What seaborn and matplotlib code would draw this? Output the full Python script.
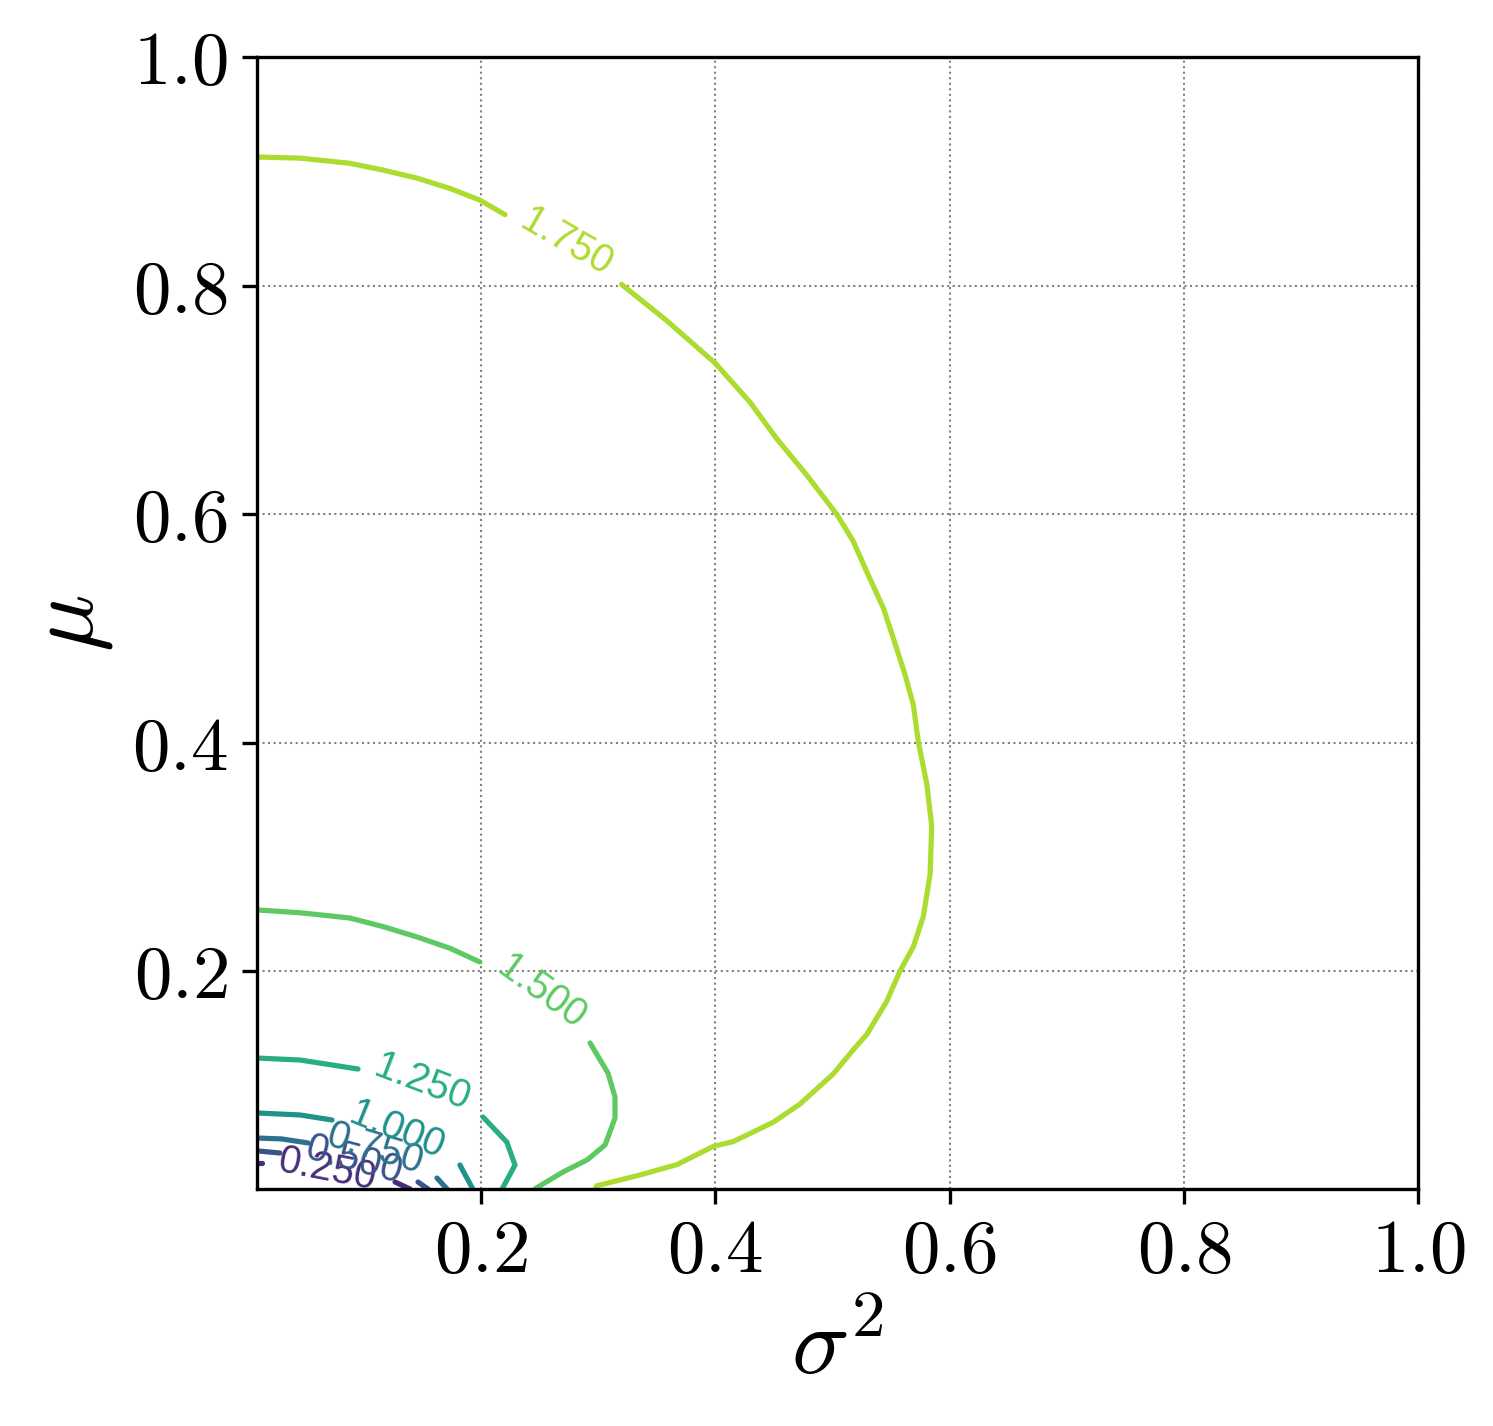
import numpy as np
import pandas as pd
import matplotlib
matplotlib.use("Agg")
import matplotlib.pyplot as plt
from matplotlib.ticker import FuncFormatter
import seaborn as sns

# ============================================
# CONTOUR LINES (sigma^2, mu)
# each level: segment before the label, segment after the label
# ============================================

LEVELS = [0.25, 0.50, 0.75, 1.00, 1.25, 1.50, 1.75]
LEVEL_TEXT = ["0.250", "0.500", "0.750", "1.000", "1.250", "1.500", "1.750"]

curve_025 = [
    [(0.0096, 0.0320), (0.0130, 0.0320)],
    [(0.1266, 0.0153), (0.1394, 0.0092)],
]
curve_050 = [
    [(0.0096, 0.0425), (0.0284, 0.0407)],
    [(0.1462, 0.0153), (0.1548, 0.0092)],
]
curve_075 = [
    [(0.0096, 0.0538), (0.0300, 0.0530), (0.0523, 0.0495)],
    [(0.1624, 0.0188), (0.1710, 0.0092)],
]
curve_100 = [
    [(0.0096, 0.0757), (0.0455, 0.0740), (0.0728, 0.0696)],
    [(0.1820, 0.0302), (0.1930, 0.0092)],
]
curve_125 = [
    [(0.0096, 0.1238), (0.0455, 0.1221), (0.0950, 0.1142)],
    [(0.2017, 0.0722), (0.2220, 0.0503), (0.2290, 0.0302), (0.2180, 0.0092)],
]
curve_150 = [
    [(0.0096, 0.2534), (0.0455, 0.2510), (0.0880, 0.2464), (0.1166, 0.2388),
     (0.1454, 0.2298), (0.1735, 0.2199), (0.1991, 0.2079)],
    [(0.2931, 0.1370), (0.3084, 0.1107), (0.3144, 0.0897), (0.3144, 0.0713),
     (0.3059, 0.0477), (0.2905, 0.0346), (0.2700, 0.0241), (0.2487, 0.0110),
     (0.2460, 0.0092)],
]
curve_175 = [
    [(0.0087, 0.9125), (0.0455, 0.9115), (0.0880, 0.9070), (0.1166, 0.9010),
     (0.1454, 0.8940), (0.1735, 0.8850), (0.1991, 0.8747), (0.2205, 0.8620)],
    [(0.3200, 0.8010), (0.3585, 0.7693), (0.4000, 0.7320), (0.4297, 0.6978),
     (0.4524, 0.6660), (0.4780, 0.6342), (0.5037, 0.5998), (0.5179, 0.5760),
     (0.5293, 0.5495), (0.5435, 0.5177), (0.5520, 0.4913), (0.5620, 0.4595),
     (0.5691, 0.4330), (0.5734, 0.4002), (0.5805, 0.3642), (0.5848, 0.3271),
     (0.5834, 0.2847), (0.5776, 0.2476), (0.5691, 0.2212), (0.5577, 0.2000),
     (0.5464, 0.1735), (0.5293, 0.1444), (0.5179, 0.1312), (0.5008, 0.1100),
     (0.4866, 0.0968), (0.4724, 0.0836), (0.4496, 0.0677), (0.4154, 0.0507),
     (0.3983, 0.0465), (0.3671, 0.0305), (0.3358, 0.0215), (0.2988, 0.0120),
     (0.2975, 0.0092)],
]

CURVES = [curve_025, curve_050, curve_075, curve_100, curve_125, curve_150, curve_175]

# build a long table: one row per point, one "seg" id per line piece
rows = []
seg_id = 0
for level, curve in zip(LEVELS, CURVES):
    for piece in curve:
        for s2, mu in piece:
            rows.append({"sigma2": s2, "mu": mu, "level": level, "seg": seg_id})
        seg_id += 1
df = pd.DataFrame(rows)

# ============================================
# PLOT
# ============================================

sns.set_style("ticks")
plt.rcParams["mathtext.fontset"] = "cm"
plt.rcParams["font.family"] = ["Liberation Sans", "DejaVu Sans"]
plt.rcParams["text.color"] = "black"
plt.rcParams["axes.labelcolor"] = "black"
plt.rcParams["xtick.color"] = "black"
plt.rcParams["ytick.color"] = "black"

fig, ax = plt.subplots(figsize=(1493 / 300, 1426 / 300), dpi=300)
fig.subplots_adjust(left=0.1721, right=0.9498, top=0.96, bottom=0.1662)

cmap = sns.color_palette("viridis", as_cmap=True)

sns.lineplot(
    data=df, x="sigma2", y="mu",
    hue="level", hue_norm=(0, 2), palette="viridis",
    units="seg", estimator=None, sort=False,
    linewidth=1.25, legend=False, ax=ax,
)

# inline contour labels
label_spots = [
    (0.0685, 0.0258, -11),
    (0.0916, 0.0346, -15),
    (0.1095, 0.0442, -17),
    (0.1283, 0.0608, -22),
    (0.1496, 0.1028, -21),
    (0.2512, 0.1816, -36),
    (0.2726, 0.8380, -30),
]
for level, txt, (lx, ly, rot) in zip(LEVELS, LEVEL_TEXT, label_spots):
    ax.text(lx, ly, txt, color=cmap(level / 2), fontsize=9.5,
            rotation=rot, rotation_mode="anchor", ha="center", va="center")

ax.set_xlim(0.0087, 1.0)
ax.set_ylim(0.0092, 1.0)
ticks = [0.2, 0.4, 0.6, 0.8, 1.0]
ax.set_xticks(ticks)
ax.set_yticks(ticks)
fmt = FuncFormatter(lambda v, p: r"$%.1f$" % v)
ax.xaxis.set_major_formatter(fmt)
ax.yaxis.set_major_formatter(fmt)
ax.tick_params(labelsize=18, width=0.8, length=3.5, colors="black")

ax.grid(True, linestyle=":", color="gray", linewidth=0.5)
for sp in ax.spines.values():
    sp.set_linewidth(0.8)
    sp.set_color("black")

ax.set_xlabel(r"$\sigma^2$", fontsize=23, color="black")
ax.set_ylabel(r"$\mu$", fontsize=23, color="black")

plt.savefig("out.png", dpi=300)
